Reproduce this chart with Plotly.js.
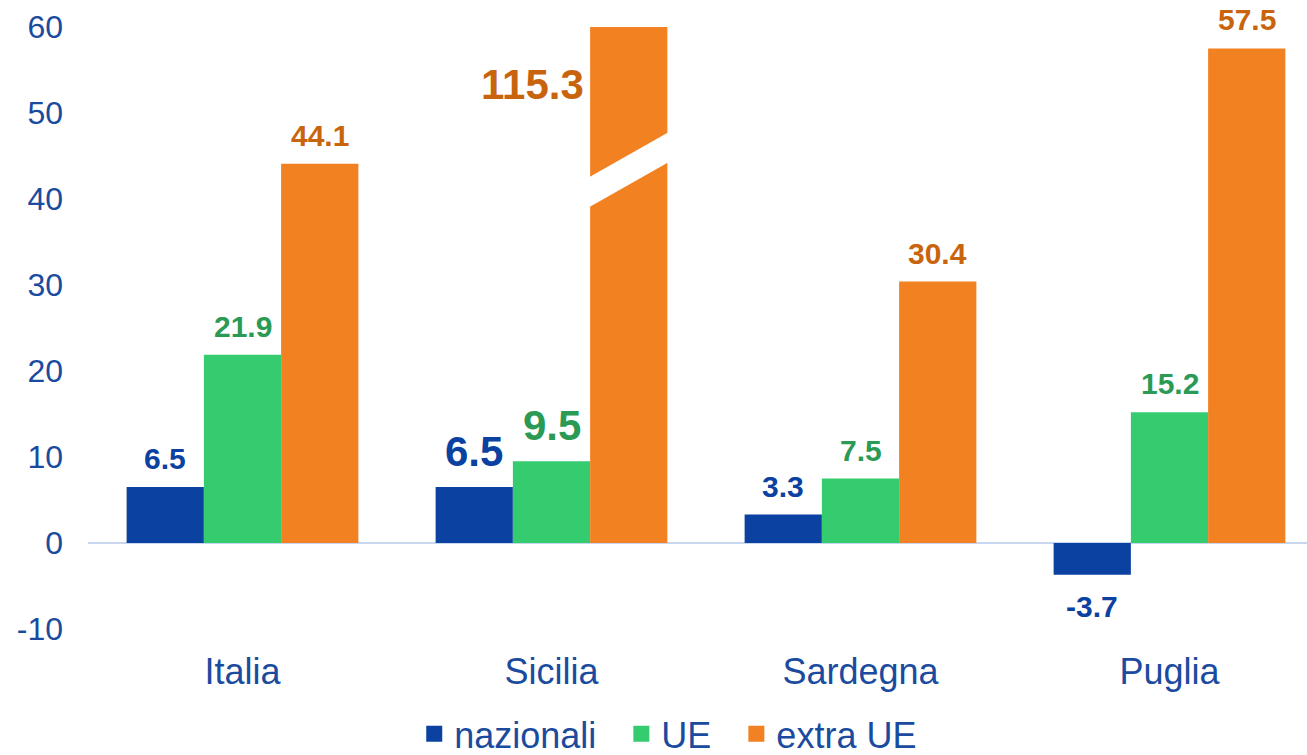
<!DOCTYPE html>
<html><head><meta charset="utf-8">
<script src="https://cdn.plot.ly/plotly-3.0.1.min.js"></script>
<style>html,body{margin:0;padding:0;background:#fff;}#chart{width:1307px;height:755px;}</style>
</head><body><div id="chart"></div>
<script>
const categories = ["Italia", "Sicilia", "Sardegna", "Puglia"];
const seriesNames = ["nazionali", "UE", "extra UE"];
const nazionali = [6.5, 6.5, 3.3, -3.7];
const ue = [21.9, 9.5, 7.5, 15.2];
const extraUe = [44.1, 115.3, 30.4, 57.5];
const yTickVals = [-10, 0, 10, 20, 30, 40, 50, 60];
const yTickText = ["-10", "0", "10", "20", "30", "40", "50", "60"];

const barColors = ["#0b41a0", "#35cc6f", "#f28121"];
const labelColors = ["#0b41a0", "#2a9a55", "#c9640e"];
const axisColor = "#1b4b9e";
const FONT = "Liberation Sans, Arial, sans-serif";
const yMax = 60, yMin = -10;
const series = [nazionali, ue, extraUe];
const barSlot = 0.25; // (1 - bargap) / 3

const traces = series.map((vals, si) => ({
  type: "bar", name: seriesNames[si], x: categories, y: vals,
  marker: {color: barColors[si]}, hoverinfo: "skip", showlegend: false
}));
// legend-only entries with larger square symbols
seriesNames.forEach((n, si) => traces.push({
  type: "scatter", mode: "markers",
  name: si < seriesNames.length - 1 ? n + "\u00a0\u00a0" : n,
  x: [null], y: [null],
  marker: {symbol: "square", size: 19, color: barColors[si]}, hoverinfo: "skip"
}));

const annotations = [];
series.forEach((vals, si) => {
  vals.forEach((v, ci) => {
    const big = categories[ci] === "Sicilia";
    const xpos = ci + (si - 1) * barSlot;
    if (v > yMax) {
      annotations.push({
        x: xpos - barSlot / 2, y: yMax - 6.7, xref: "x", yref: "y",
        text: "<b>" + v.toFixed(1) + "</b>", showarrow: false,
        xanchor: "right", yanchor: "middle", xshift: -4,
        font: {family: FONT, size: 42, color: labelColors[si]}
      });
    } else {
      annotations.push({
        x: xpos, y: v, xref: "x", yref: "y",
        text: "<b>" + v.toFixed(1) + "</b>", showarrow: false,
        xanchor: "center", yanchor: v >= 0 ? "bottom" : "top",
        yshift: v >= 0 ? 10 : -13,
        font: {family: FONT, size: big ? 42 : 30, color: labelColors[si]}
      });
    }
  });
});

// axis break on the clipped bar
const shapes = [];
series.forEach((vals, si) => {
  vals.forEach((v, ci) => {
    if (v > yMax) {
      const xl = ci + (si - 1) * barSlot - barSlot / 2 - 0.005;
      const xr = ci + (si - 1) * barSlot + barSlot / 2 + 0.005;
      shapes.push({
        type: "path", xref: "x", yref: "y", layer: "above",
        path: `M ${xl},42.5 L ${xr},47.8 L ${xr},44.3 L ${xl},39.0 Z`,
        fillcolor: "#ffffff", line: {width: 0}
      });
    }
  });
});

const layout = {
  width: 1307, height: 755,
  margin: {l: 88, r: 0, t: 27, b: 126, autoexpand: false},
  paper_bgcolor: "#ffffff", plot_bgcolor: "#ffffff",
  barmode: "group", bargap: 0.25, bargroupgap: 0,
  showlegend: true,
  legend: {orientation: "h", x: 0.476, xanchor: "center", y: -0.174, yanchor: "middle",
           font: {family: FONT, size: 36, color: axisColor}, itemwidth: 30, traceorder: "normal"},
  xaxis: {type: "category", range: [-0.5, 3.445], showgrid: false, showline: false, ticks: "",
          tickfont: {family: FONT, size: 36, color: axisColor}, ticklabelstandoff: 18, fixedrange: true},
  yaxis: {range: [yMin, yMax], tickvals: yTickVals, ticktext: yTickText, showgrid: false, showline: false, ticks: "",
          zeroline: true, zerolinecolor: "#c8d7ef", zerolinewidth: 2,
          tickfont: {family: FONT, size: 32, color: axisColor}, ticklabelstandoff: 24, fixedrange: true},
  annotations: annotations, shapes: shapes
};

Plotly.newPlot("chart", traces, layout, {displayModeBar: false, staticPlot: true});
</script></body></html>
